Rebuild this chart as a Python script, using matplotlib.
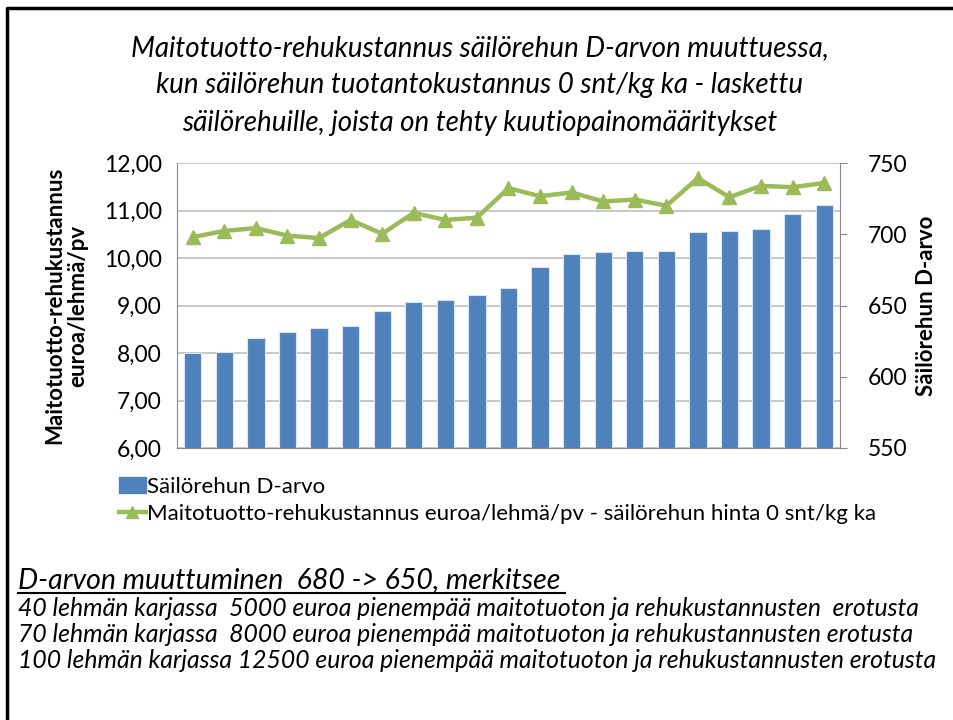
import matplotlib.pyplot as plt
from matplotlib.lines import Line2D
from matplotlib.patches import Patch

plt.rcParams['font.family'] = ['Lato', 'DejaVu Sans']

# =====================================
# Data
# =====================================
d_arvo = [617, 617.5, 627.5, 631.5, 634.5, 635.5, 646, 652.5, 654, 657.5, 662,
          677, 686, 687.5, 688, 688.5, 701.5, 702.5, 703.5, 714.5, 720.5]
margin = [10.44, 10.57, 10.63, 10.47, 10.42, 10.80, 10.51, 10.95, 10.80, 10.85, 11.47,
          11.30, 11.38, 11.19, 11.23, 11.10, 11.68, 11.28, 11.52, 11.49, 11.58]
x = list(range(len(d_arvo)))

left_ticks = [6, 7, 8, 9, 10, 11, 12]
right_ticks = [550, 600, 650, 700, 750]

title_lines = [
    "Maitotuotto-rehukustannus säilörehun D-arvon muuttuessa,",
    "kun säilörehun tuotantokustannus 0 snt/kg ka - laskettu",
    "säilörehuille, joista on tehty kuutiopainomääritykset",
]
note_head = "D-arvon muuttuminen  680 -> 650, merkitsee"
note_lines = [
    "40 lehmän karjassa  5000 euroa pienempää maitotuoton ja rehukustannusten  erotusta",
    "70 lehmän karjassa  8000 euroa pienempää maitotuoton ja rehukustannusten erotusta",
    "100 lehmän karjassa 12500 euroa pienempää maitotuoton ja rehukustannusten erotusta",
]

bar_color = "#4F81BD"
line_color = "#9BBB59"
grid_color = "#BFBFBF"

# =====================================
# Figure
# =====================================
fig = plt.figure(figsize=(9.54, 7.2), dpi=100)
pos = [177 / 954, 1 - 448 / 720, (840 - 177) / 954, (448 - 163) / 720]

# grid + left scale
ax = fig.add_axes(pos)
ax.set_xlim(-0.5, len(x) - 0.5)
ax.set_ylim(6, 12)
ax.set_yticks(left_ticks)
ax.set_yticklabels([f"{v:.2f}".replace(".", ",") for v in left_ticks], fontsize=16.5)
ax.yaxis.grid(True, color=grid_color, lw=1.2)
ax.set_xticks([])
ax.tick_params(axis="y", length=0, pad=11)
for s in ["top", "right"]:
    ax.spines[s].set_visible(False)
ax.spines["left"].set_color("#888888")
ax.spines["bottom"].set_color("#888888")
ax.set_ylabel("Maitotuotto-rehukustannus\neuroa/lehmä/pv", fontsize=16,
              fontweight="bold", labelpad=11, linespacing=1.1)

# bars on right scale
ax2 = ax.twinx()
ax2.bar(x, d_arvo, width=0.55, color=bar_color, edgecolor="#DCE3EE", linewidth=0.8)
ax2.set_ylim(550, 750)
ax2.set_yticks(right_ticks)
ax2.set_yticklabels([str(v) for v in right_ticks], fontsize=16.5)
ax2.tick_params(axis="y", length=5, color="#888888", pad=15)
for s in ["top", "left", "bottom"]:
    ax2.spines[s].set_visible(False)
ax2.spines["right"].set_color("#888888")
ax2.set_ylabel("Säilörehun D-arvo", fontsize=16, fontweight="bold", labelpad=6)

# line on left scale
ax3 = ax.twinx()
ax3.set_ylim(6, 12)
ax3.plot(x, margin, color=line_color, lw=3.2, marker="^", markersize=10,
         markeredgecolor=line_color)
ax3.axis("off")

# title
for i, t in enumerate(title_lines):
    fig.text(0.503, 1 - (48 + 37.5 * i) / 720, t, ha="center", va="center",
             fontsize=20, style="italic")

# legend
handles = [Patch(color=bar_color),
           Line2D([], [], color=line_color, lw=3.2, marker="^", markersize=8)]
labels = ["Säilörehun D-arvo",
          "Maitotuotto-rehukustannus euroa/lehmä/pv - säilörehun hinta 0 snt/kg ka"]
fig.legend(handles, labels, loc="upper left", bbox_to_anchor=(110 / 954, 1 - 468 / 720),
           frameon=False, fontsize=16, handlelength=1.2, handletextpad=0.05,
           labelspacing=0.3, borderaxespad=0)

# notes
fig.text(18 / 954, 1 - 580 / 720, note_head, ha="left", va="center",
         fontsize=20.5, style="italic")
fig.add_artist(Line2D([18 / 954, 565 / 954], [1 - 593 / 720, 1 - 593 / 720],
                      color="black", lw=1.5))
for i, t in enumerate(note_lines):
    fig.text(18 / 954, 1 - (608 + 26.5 * i) / 720, t, ha="left", va="center",
             fontsize=17.8, style="italic")

# frame
fig.add_artist(Line2D([7 / 954, 7 / 954, 1], [0, 1 - 8 / 720, 1 - 8 / 720],
                      color="black", lw=2.5))

fig.savefig("out.png", dpi=100)
